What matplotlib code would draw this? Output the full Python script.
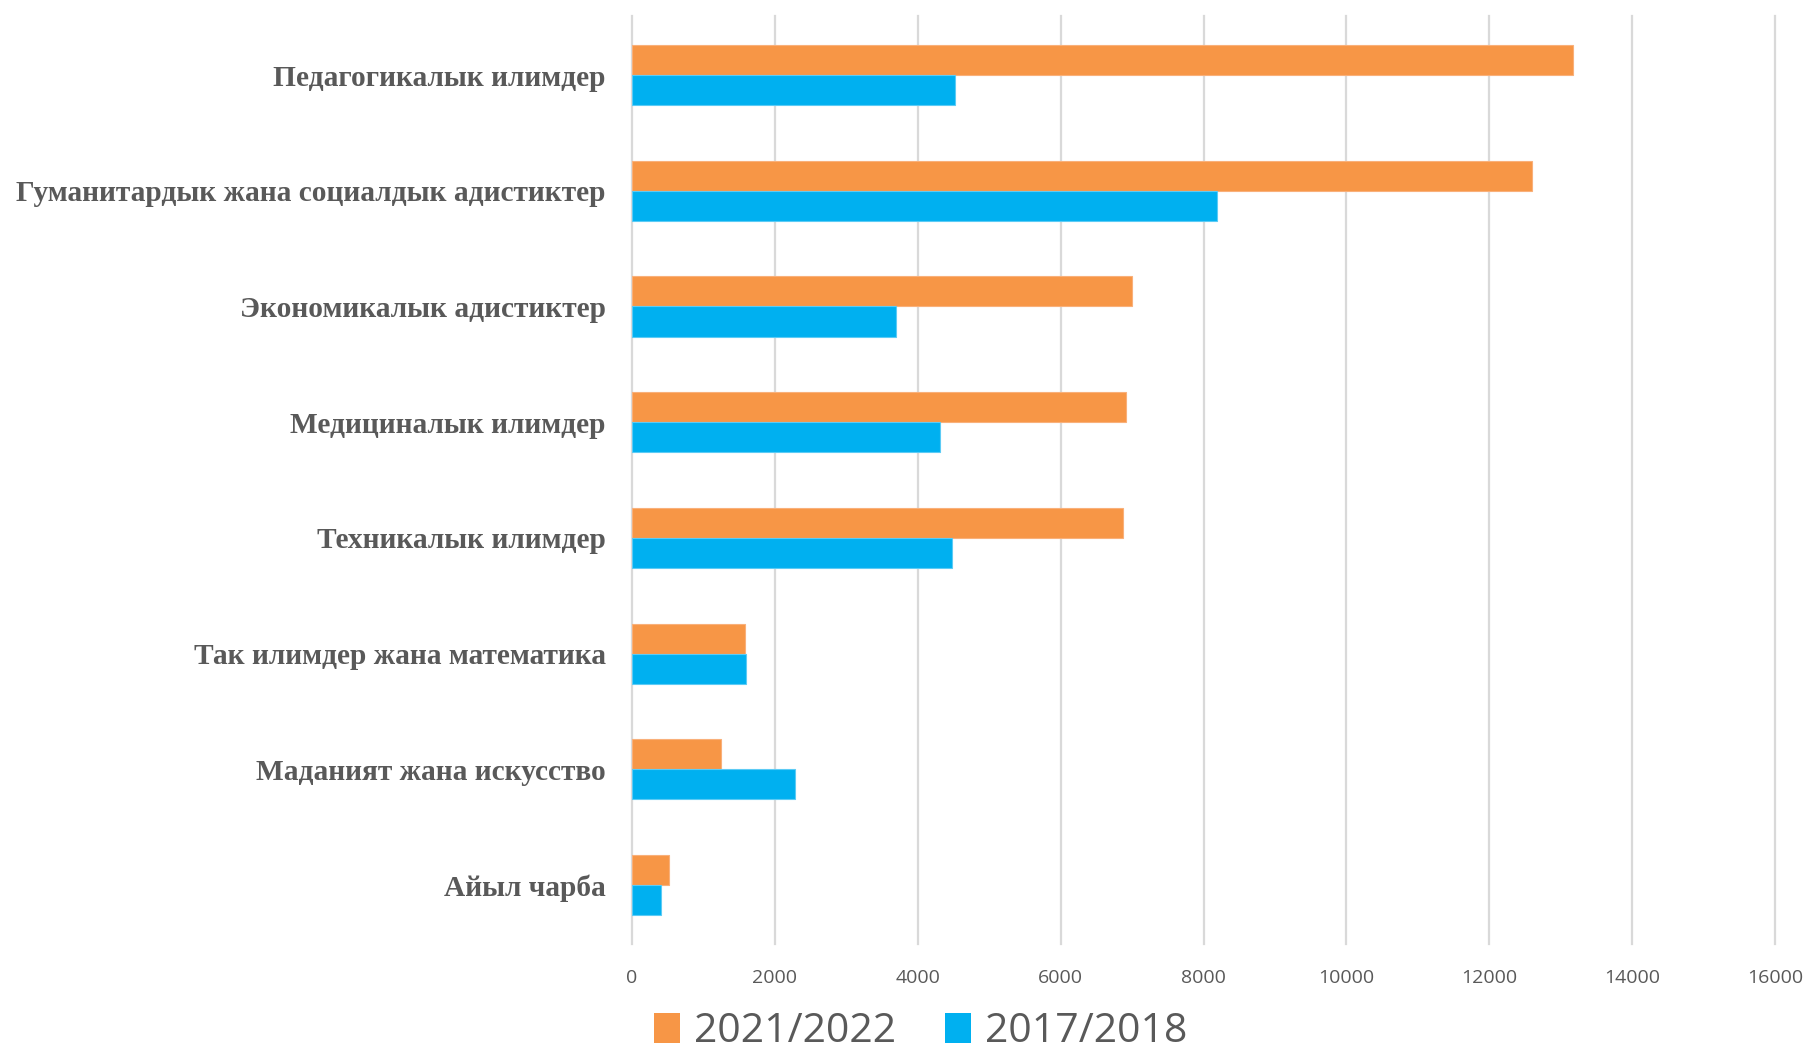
import numpy as np
import matplotlib.pyplot as plt
from matplotlib.patches import Patch

# Categories from top to bottom
categories = [
    'Педагогикалык илимдер',
    'Гуманитардык жана социалдык адистиктер',
    'Экономикалык адистиктер',
    'Медициналык илимдер',
    'Техникалык илимдер',
    'Так илимдер жана математика',
    'Маданият жана искусство',
    'Айыл чарба',
]
values_2021 = [13170, 12600, 7000, 6920, 6870, 1580, 1240, 520]
values_2017 = [4520, 8190, 3700, 4310, 4480, 1600, 2280, 400]
series_labels = ['2021/2022', '2017/2018']
xticks = [0, 2000, 4000, 6000, 8000, 10000, 12000, 14000, 16000]

orange = '#F79646'
blue = '#00B0F0'
text_grey = '#595959'
grid_grey = '#D9D9D9'

fig = plt.figure(figsize=(18.09, 10.55), dpi=100)
ax = fig.add_axes([0.3494, 0.1052, 0.6318, 0.8796])

y = np.arange(len(categories))
h = 0.26
ax.barh(y - h / 2, values_2021, height=h, color=orange, edgecolor='#F9B07A', linewidth=0.8)
ax.barh(y + h / 2, values_2017, height=h, color=blue, edgecolor='#5CCBF5', linewidth=0.8)

ax.set_ylim(len(categories) - 0.49, -0.51)
ax.set_xlim(0, 16000)
ax.set_xticks(xticks)
ax.set_xticklabels([str(t) for t in xticks], family='Open Sans', fontsize=14, color=text_grey)
ax.set_yticks(y)
ax.set_yticklabels(categories, family='Liberation Serif', fontweight='bold', fontsize=21.2, color=text_grey)
ax.tick_params(axis='x', length=0, pad=18)
ax.tick_params(axis='y', length=0, pad=19)

ax.grid(axis='x', color=grid_grey, linewidth=1.6)
for gl in ax.get_xgridlines():
    gl.set_clip_on(False)
ax.set_axisbelow(True)
for s in ax.spines.values():
    s.set_visible(False)

handles = [Patch(facecolor=orange), Patch(facecolor=blue)]
leg = fig.legend(handles, series_labels, loc='center', bbox_to_anchor=(0.509, 0.022),
                 ncol=2, frameon=False, handlelength=0.62, handleheight=0.75,
                 handletextpad=0.35, columnspacing=1.2, borderpad=0.1,
                 prop={'family': 'Open Sans', 'size': 29.5})
for t in leg.get_texts():
    t.set_color(text_grey)

fig.savefig('out.png', dpi=100)
